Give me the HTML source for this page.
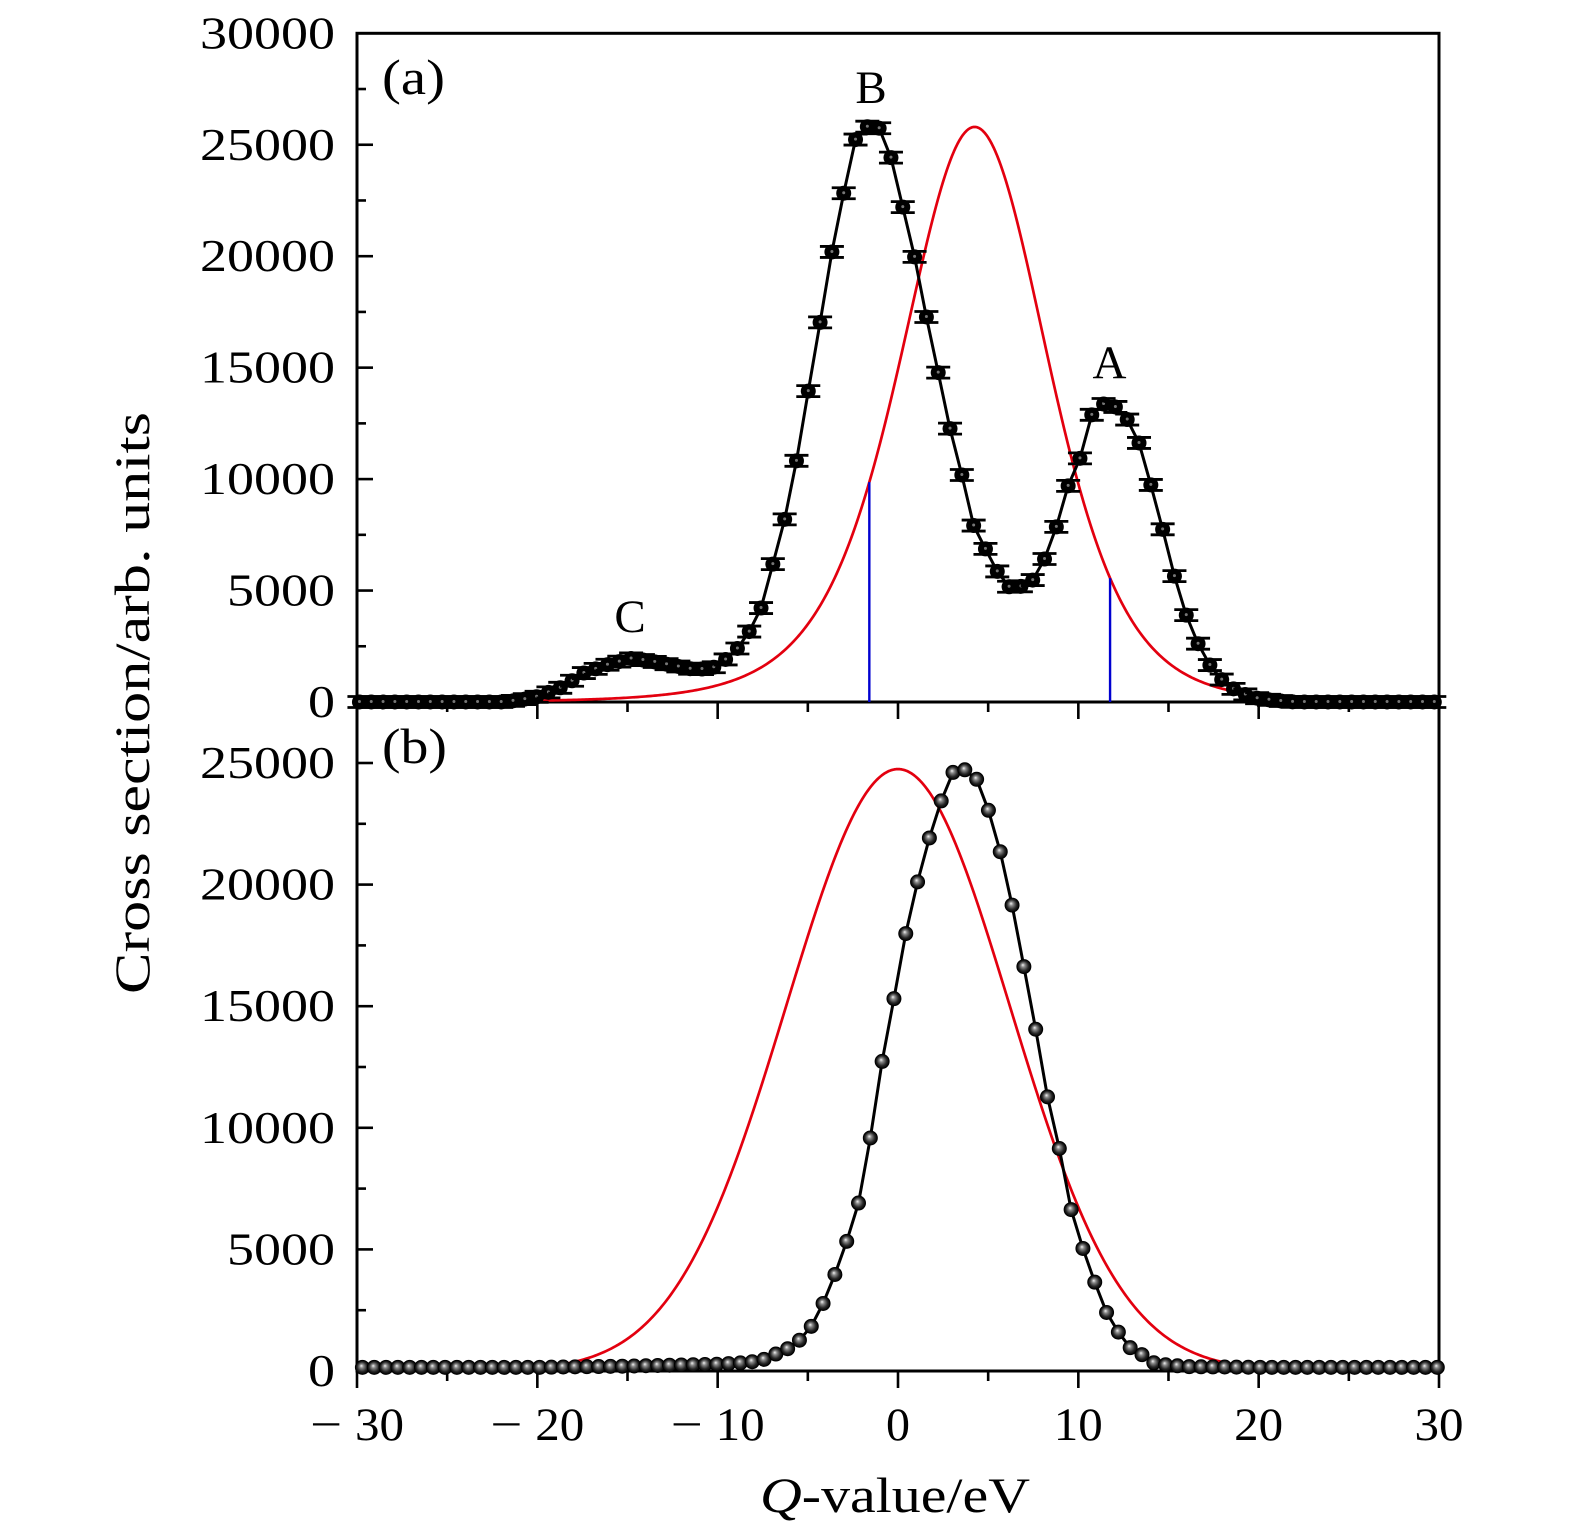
<!DOCTYPE html>
<html>
<head>
<meta charset="utf-8">
<style>
html,body{margin:0;padding:0;background:#fff;}
svg{display:block;}
</style>
</head>
<body>
<svg id="s" width="1575" height="1535" viewBox="0 0 1575 1535" xmlns="http://www.w3.org/2000/svg" font-family="'Liberation Serif', serif">
<defs>
<radialGradient id="sph" cx="0.5" cy="0.5" r="0.5" fx="0.42" fy="0.38">
<stop offset="0" stop-color="#f4f4f4"/>
<stop offset="0.28" stop-color="#8a8a8a"/>
<stop offset="0.7" stop-color="#262626"/>
<stop offset="1" stop-color="#000"/>
</radialGradient>
</defs>
<rect x="0" y="0" width="1575" height="1535" fill="#fff"/>

<!-- frames -->
<g fill="none" stroke="#000" stroke-width="3">
<rect x="357" y="33.3" width="1082" height="668.7"/>
<polyline points="357,702 357,1371 1439,1371 1439,702"/>
</g>

<g id="plot"></g>

<!-- y tick labels -->
<g font-size="46" text-anchor="end" fill="#000">
<text x="335" y="48.3" textLength="135" lengthAdjust="spacingAndGlyphs">30000</text>
<text x="335" y="159.8" textLength="135" lengthAdjust="spacingAndGlyphs">25000</text>
<text x="335" y="271.2" textLength="135" lengthAdjust="spacingAndGlyphs">20000</text>
<text x="335" y="382.7" textLength="135" lengthAdjust="spacingAndGlyphs">15000</text>
<text x="335" y="494.1" textLength="135" lengthAdjust="spacingAndGlyphs">10000</text>
<text x="335" y="605.6" textLength="108" lengthAdjust="spacingAndGlyphs">5000</text>
<text x="335" y="717" textLength="27" lengthAdjust="spacingAndGlyphs">0</text>
<text x="335" y="778" textLength="135" lengthAdjust="spacingAndGlyphs">25000</text>
<text x="335" y="899.6" textLength="135" lengthAdjust="spacingAndGlyphs">20000</text>
<text x="335" y="1021.2" textLength="135" lengthAdjust="spacingAndGlyphs">15000</text>
<text x="335" y="1142.8" textLength="135" lengthAdjust="spacingAndGlyphs">10000</text>
<text x="335" y="1264.4" textLength="108" lengthAdjust="spacingAndGlyphs">5000</text>
<text x="335" y="1386" textLength="27" lengthAdjust="spacingAndGlyphs">0</text>
</g>

<!-- x tick labels -->
<g font-size="47" fill="#000">
<text x="310" y="1440" textLength="32" lengthAdjust="spacingAndGlyphs">−</text>
<text x="355" y="1440" textLength="49" lengthAdjust="spacingAndGlyphs">30</text>
<text x="490.3" y="1440" textLength="32" lengthAdjust="spacingAndGlyphs">−</text>
<text x="535.3" y="1440" textLength="49" lengthAdjust="spacingAndGlyphs">20</text>
<text x="670.7" y="1440" textLength="32" lengthAdjust="spacingAndGlyphs">−</text>
<text x="715.7" y="1440" textLength="49" lengthAdjust="spacingAndGlyphs">10</text>
<text x="886" y="1440" textLength="24" lengthAdjust="spacingAndGlyphs">0</text>
<text x="1053.8" y="1440" textLength="49" lengthAdjust="spacingAndGlyphs">10</text>
<text x="1234.2" y="1440" textLength="49" lengthAdjust="spacingAndGlyphs">20</text>
<text x="1414.5" y="1440" textLength="49" lengthAdjust="spacingAndGlyphs">30</text>
</g>

<!-- axis titles -->
<text x="760" y="1512" font-size="50" textLength="270" lengthAdjust="spacingAndGlyphs" fill="#000"><tspan font-style="italic">Q</tspan>-value/eV</text>
<text transform="translate(149,703) rotate(-90)" x="0" y="0" font-size="50" text-anchor="middle" textLength="582" lengthAdjust="spacingAndGlyphs" fill="#000">Cross section/arb. units</text>

<!-- panel labels -->
<text x="382" y="94" font-size="50" textLength="63" lengthAdjust="spacingAndGlyphs" fill="#000">(a)</text>
<text x="382" y="763" font-size="50" textLength="65" lengthAdjust="spacingAndGlyphs" fill="#000">(b)</text>
<text x="871" y="103" font-size="47" text-anchor="middle" fill="#000">B</text>
<text x="1109.5" y="378" font-size="47" text-anchor="middle" fill="#000">A</text>
<text x="630" y="632" font-size="47" text-anchor="middle" fill="#000">C</text>
</svg>

<script>
(function(){
const NS="http://www.w3.org/2000/svg";
const G=document.getElementById('plot');
function el(tag,attrs,parent){const e=document.createElementNS(NS,tag);for(const k in attrs)e.setAttribute(k,attrs[k]);(parent||G).appendChild(e);return e;}
const X=e=>898+e*18.0333;
const YT=v=>702-v*0.02229;
const YB=v=>1371-v*0.02432;
function lin(t,x){
  if(x<=t[0][0])return t[0][1];
  for(let i=1;i<t.length;i++){ if(x<=t[i][0]){const a=t[i-1],b=t[i];return a[1]+(b[1]-a[1])*(x-a[0])/(b[0]-a[0]);}}
  return t[t.length-1][1];
}

// ---------- ticks ----------
const tg=el('g',{stroke:'#000','stroke-width':2.6,fill:'none'});
for(let v=2500; v<30000; v+=2500){
  const major=(v%5000===0);
  const y=YT(v);
  el('line',{x1:357,y1:y,x2:357+(major?16:9),y2:y},tg);
}
for(let v=2500; v<27500; v+=2500){
  const major=(v%5000===0);
  const y=YB(v);
  el('line',{x1:357,y1:y,x2:357+(major?16:9),y2:y},tg);
}
for(let e=-30;e<=30;e+=5){
  const major=(e%10===0);
  const x=X(e);
  el('line',{x1:x,y1:702,x2:x,y2:702+(major?17:10)},tg);
  el('line',{x1:x,y1:1371,x2:x,y2:1371+(major?17:10)},tg);
}

// ---------- data ----------
const topBlack=[[-30,0],[-22,0],[-21,80],[-20,240],[-18.56,690],[-17.45,1290],[-16.16,1660],[-14.77,1960],[-13.57,1810],[-12.09,1580],[-11.17,1440],[-10.06,1580],[-9.04,2250],[-8.3,3080],[-7.6,4200],[-7.0,6000],[-6.27,8240],[-5.62,10860],[-5.0,13830],[-4.38,16740],[-3.68,20130],[-3.03,22750],[-2.38,25210],[-1.70,25810],[-1.04,25740],[-0.35,24340],[0.26,22220],[0.94,19900],[1.59,17210],[2.24,14740],[2.88,12280],[3.53,10220],[4.18,7940],[4.88,6820],[5.51,5850],[6.16,5170],[6.77,5170],[7.47,5470],[8.15,6450],[8.80,7900],[9.45,9740],[10.09,10930],[10.74,12880],[11.39,13370],[12.04,13250],[12.77,12620],[13.42,11530],[14.07,9590],[14.71,7640],[15.36,5550],[16.01,3830],[16.71,2480],[17.35,1580],[18.05,910],[18.69,540],[19.34,310],[20,150],[21,60],[22,0],[30,0]];
const botBlack=[[-30,150],[-20,150],[-15,200],[-10,280],[-8.8,330],[-8.1,380],[-7.47,465],[-6.82,683],[-6.18,884],[-5.48,1254],[-4.83,1809],[-4.23,2644],[-3.59,3783],[-2.83,5362],[-2.15,7003],[-1.51,9688],[-0.90,12652],[-0.26,15168],[0.43,17985],[1.09,20128],[1.72,21871],[2.37,23397],[3.11,24720],[3.72,24720],[4.33,24387],[4.98,23146],[5.66,21385],[6.34,19108],[6.99,16591],[7.65,13993],[8.30,11230],[8.95,9133],[9.54,6784],[10.24,5070],[10.93,3610],[11.54,2438],[12.22,1600],[12.87,962],[13.52,678],[14.16,341],[14.81,259],[16,180],[20,150],[30,150]];
function fTopRed(e){
  const d=e-4.25;
  if(d<0){const q=d/9.5; return 25800*Math.pow(1+q*q,-3);}
  const q=d/10.98; return 25800*Math.pow(1+q*q,-4);
}
const fBotRed=x=>24750*Math.exp(-x*x/(2*6.2*6.2));

// red curves
let p=[];
for(let e=-24;e<=26.001;e+=0.1){p.push(X(e).toFixed(2)+','+YT(Math.max(0,fTopRed(e))).toFixed(2));}
el('polyline',{points:p.join(' '),fill:'none',stroke:'#e3000f','stroke-width':2.7,'stroke-linejoin':'round'});
p=[];
for(let e=-22;e<=22.001;e+=0.1){p.push(X(e).toFixed(2)+','+YB(fBotRed(e)).toFixed(2));}
el('polyline',{points:p.join(' '),fill:'none',stroke:'#e3000f','stroke-width':2.7,'stroke-linejoin':'round'});

// blue lines
[-1.59,11.76].forEach(e=>{
  el('line',{x1:X(e),y1:702,x2:X(e),y2:YT(fTopRed(e)),stroke:'#0000d0','stroke-width':2.4});
});

// top black
const tp=[];
for(let k=-43;k<=48;k++){const e=-1.70+0.655*k; tp.push([X(e),YT(lin(topBlack,e))]);}
el('polyline',{points:tp.map(q=>q[0].toFixed(2)+','+q[1].toFixed(2)).join(' '),fill:'none',stroke:'#000','stroke-width':3,'stroke-linejoin':'round'});
const mg=el('g',{});
tp.forEach(q=>{
  const cx=q[0], cy=q[1];
  el('line',{x1:cx,y1:cy-5.5,x2:cx,y2:cy+5.5,stroke:'#000','stroke-width':2},mg);
  el('line',{x1:cx-12,y1:cy-5.5,x2:cx+12,y2:cy-5.5,stroke:'#000','stroke-width':2.8},mg);
  el('line',{x1:cx-12,y1:cy+5.5,x2:cx+12,y2:cy+5.5,stroke:'#000','stroke-width':2.8},mg);
  el('circle',{cx:cx,cy:cy,r:7.5,fill:'#000'},mg);
  el('circle',{cx:cx,cy:cy-0.5,r:1.5,fill:'#777'},mg);
});

// bottom black
const bp=[];
for(let k=-46;k<=45;k++){const e=0.43+0.655*k; bp.push([X(e),YB(lin(botBlack,e))]);}
el('polyline',{points:bp.map(q=>q[0].toFixed(2)+','+q[1].toFixed(2)).join(' '),fill:'none',stroke:'#000','stroke-width':3,'stroke-linejoin':'round'});
const bg=el('g',{});
bp.forEach(q=>{
  el('circle',{cx:q[0],cy:q[1],r:7,fill:'url(#sph)',stroke:'#000','stroke-width':1},bg);
});
})();
</script>
</body>
</html>
